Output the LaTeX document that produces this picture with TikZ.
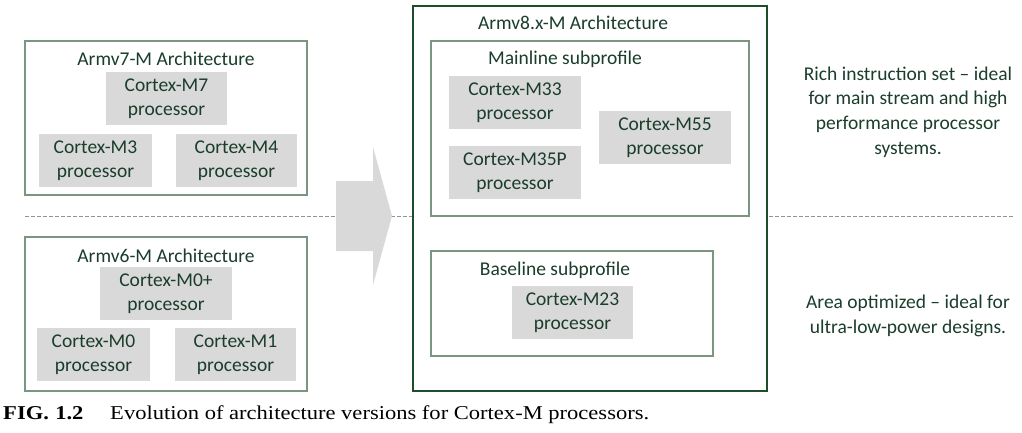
\documentclass[tikz,border=0pt]{standalone}
\usepackage{fontspec}
\setmainfont{Carlito}
\newfontfamily\capfont{Liberation Serif}
\usetikzlibrary{positioning}

\definecolor{txtgreen}{RGB}{26,61,44}
\definecolor{boxline}{RGB}{122,150,128}
\definecolor{outerline}{RGB}{30,77,43}
\definecolor{cpugray}{RGB}{217,217,217}
\definecolor{dashgray}{RGB}{138,154,144}

\tikzset{
	archbox/.style={draw=boxline, line width=1.1pt, fill=white, inner sep=0pt},
	bigbox/.style={draw=outerline, line width=1.3pt, fill=white, inner sep=0pt},
	cpubox/.style={fill=cpugray, text=txtgreen, align=center, inner sep=0pt, minimum height=53pt,
		font=\fontsize{19.5}{24.5}\selectfont},
	boxtitle/.style={text=txtgreen, inner sep=0pt, font=\fontsize{19.5}{24.5}\selectfont},
	sidenote/.style={text=txtgreen, align=center, inner sep=0pt, font=\fontsize{19.5}{24.7}\selectfont},
	divider/.style={draw=dashgray, line width=1pt, dash pattern=on 4pt off 2pt}
}

\begin{document}
\begin{tikzpicture}[x=1pt,y=-1pt]
	\useasboundingbox (0,0) rectangle (1022,433);
	% dividing line
	\coordinate (dl) at (25,216);
	\coordinate (dr) at (1014,216);
	\draw[divider] (dl) -- (dr);
	% evolution arrow
	\fill[cpugray] (336,181) -- (373,181) -- (373,147) -- (392,216) -- (373,285) -- (373,251) -- (336,251) -- cycle;

	% Armv7-M
	\node[archbox, minimum width=282pt, minimum height=154pt] (v7) at (166,118) {};
	\node[boxtitle] (v7t) at (166,59) {Armv7-M Architecture};
	\node[cpubox, minimum width=121pt] (m7) at (166.5,98.5) {Cortex-M7\\processor};
	\node[cpubox, minimum width=113pt] (m3) at (95.5,160.5) {Cortex-M3\\processor};
	\node[cpubox, minimum width=121pt] (m4) at (236.5,160.5) {Cortex-M4\\processor};

	% Armv6-M
	\node[archbox, minimum width=282pt, minimum height=154pt] (v6) at (166,314) {};
	\node[boxtitle] (v6t) at (166,256) {Armv6-M Architecture};
	\node[cpubox, minimum width=132pt] (m0p) at (166,293.5) {Cortex-M0+\\processor};
	\node[cpubox, minimum width=113pt] (m0) at (93.5,354.5) {Cortex-M0\\processor};
	\node[cpubox, minimum width=121pt] (m1) at (235.5,354.5) {Cortex-M1\\processor};

	% Armv8.x-M
	\node[bigbox, minimum width=354pt, minimum height=385pt] (v8) at (590,198.5) {};
	\node[boxtitle] (v8t) at (573,23) {Armv8.x-M Architecture};
	\node[archbox, minimum width=318pt, minimum height=175pt] (main) at (590,128.5) {};
	\node[boxtitle] (maint) at (565,59) {Mainline subprofile};
	\node[cpubox, minimum width=132pt] (m33) at (515,102.5) {Cortex-M33\\processor};
	\node[cpubox, minimum width=132pt] (m35p) at (515,172.5) {Cortex-M35P\\processor};
	\node[cpubox, minimum width=132pt] (m55) at (665,137.5) {Cortex-M55\\processor};
	\node[archbox, minimum width=282pt, minimum height=105pt] (base) at (572,303.5) {};
	\node[boxtitle] (baset) at (555,270) {Baseline subprofile};
	\node[cpubox, minimum width=121pt] (m23) at (572.5,312.5) {Cortex-M23\\processor};

	% notes
	\node[sidenote] (rich) at (908,112) {Rich instruction set -- ideal\\for main stream and high\\performance processor\\systems.};
	\node[sidenote] (area) at (908,316) {Area optimized -- ideal for\\ultra-low-power designs.};

	% caption
	\node[anchor=base west, inner sep=0pt, xscale=1.15, transform shape, font=\capfont\fontsize{19.6}{22}\selectfont] (cap) at (3,419)
		{\textbf{FIG.}\hspace{5.5pt}\textbf{1.2}\hspace{23.3pt}Evolution of architecture versions for Cortex-M processors.};
\end{tikzpicture}
\end{document}
